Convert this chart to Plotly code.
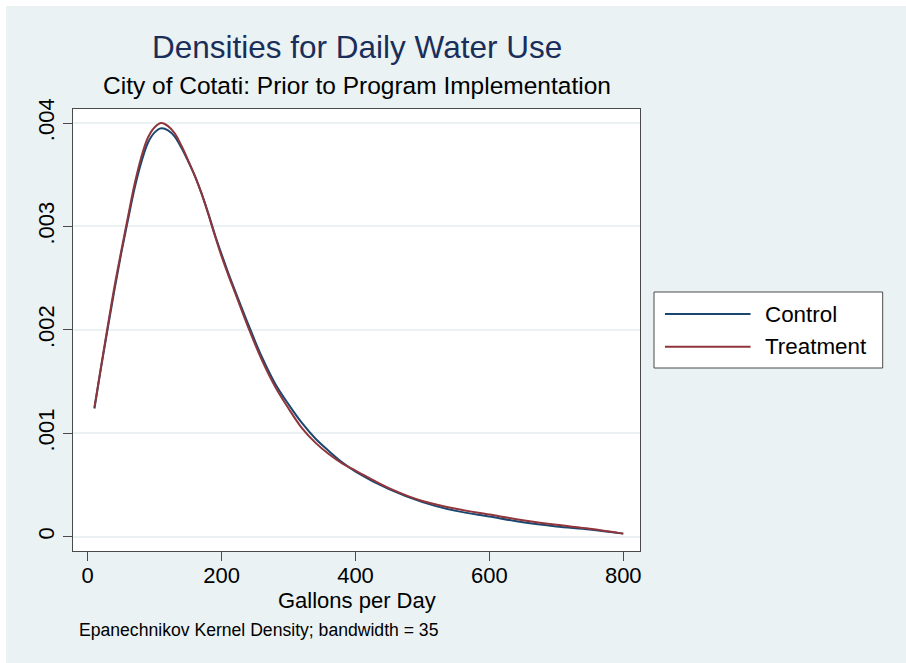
import plotly.graph_objects as go

# Kernel density estimates of daily water use (gallons per day)
gallons = [10, 20, 30, 40, 50, 60, 70, 80, 90, 100, 110, 120, 130, 140, 150,
           160, 170, 180, 190, 200, 210, 220, 240, 260, 280, 300, 320, 340,
           360, 380, 400, 450, 500, 550, 600, 650, 700, 750, 800]

control = [0.00124, 0.00164, 0.00202, 0.00239, 0.00274, 0.00306, 0.00337,
           0.00362, 0.00381, 0.00391, 0.00395, 0.00393, 0.00387, 0.00376,
           0.00363, 0.00349, 0.00332, 0.00313, 0.00292, 0.00273, 0.00255,
           0.00238, 0.00205, 0.00174, 0.00148, 0.00128, 0.00110, 0.00095,
           0.00083, 0.00072, 0.00063, 0.00046, 0.000335, 0.00025, 0.000195,
           0.00014, 0.0001, 0.00007, 0.00003]

treatment = [0.00125, 0.00165, 0.00204, 0.00242, 0.00276, 0.00309, 0.00341,
             0.00367, 0.00386, 0.00396, 0.00400, 0.00397, 0.00390, 0.00378,
             0.00364, 0.00349, 0.00332, 0.00312, 0.00291, 0.00271, 0.00253,
             0.00236, 0.00202, 0.00171, 0.00145, 0.00124, 0.00105, 0.00091,
             0.00080, 0.00071, 0.00064, 0.00047, 0.000345, 0.00027, 0.000215,
             0.00016, 0.000115, 0.000078, 0.00003]

y_ticks = [0, 0.001, 0.002, 0.003, 0.004]
y_tick_text = ["0", ".001", ".002", ".003", ".004"]
x_ticks = [0, 200, 400, 600, 800]

series_names = ["Control", "Treatment"]
series_colors = ["#1a476f", "#90353b"]

FONT = "Liberation Sans, Arial, Helvetica, sans-serif"
BG = "#eaf2f3"
FRAME = "#4a4a4a"

fig = go.Figure()
for name, vals, col in zip(series_names, [control, treatment], series_colors):
    fig.add_trace(go.Scatter(x=gallons, y=vals, mode="lines", name=name,
                             line=dict(color=col, width=2, shape="spline",
                                       smoothing=1.0),
                             showlegend=False))

shapes = [
    # graph region
    dict(type="rect", xref="paper", yref="paper", x0=-0.118, x1=1.6,
         y0=-0.35, y1=1.233, fillcolor=BG, line=dict(width=0), layer="below"),
    # plot region
    dict(type="rect", xref="paper", yref="paper", x0=0, x1=1, y0=0, y1=1,
         fillcolor="white", line=dict(width=0), layer="below"),
    # legend box
    dict(type="rect", xref="paper", yref="paper", x0=1.0247, x1=1.428,
         y0=0.414, y1=0.586, fillcolor="white",
         line=dict(color=FRAME, width=1)),
]

annotations = [
    dict(text="Densities for Daily Water Use", x=0.5, y=1.140, xref="paper",
         yref="paper", showarrow=False, xanchor="center", yanchor="middle",
         font=dict(family=FONT, size=31.5, color="#1a2e5a")),
    dict(text="City of Cotati: Prior to Program Implementation", x=0.5,
         y=1.054, xref="paper", yref="paper", showarrow=False,
         xanchor="center", yanchor="middle",
         font=dict(family=FONT, size=24.5, color="black")),
    dict(text="Gallons per Day", x=0.5, y=-0.111, xref="paper",
         yref="paper", showarrow=False, xanchor="center", yanchor="middle",
         font=dict(family=FONT, size=22, color="black")),
    dict(text="Epanechnikov Kernel Density; bandwidth = 35", x=0.007,
         y=-0.179, xref="paper", yref="paper", showarrow=False,
         xanchor="left", yanchor="middle",
         font=dict(family=FONT, size=17.6, color="black")),
]

# legend entries
legend_rows = [0.536, 0.462]
for name, col, yy in zip(series_names, series_colors, legend_rows):
    shapes.append(dict(type="line", xref="paper", yref="paper", x0=1.044,
                       x1=1.195, y0=yy, y1=yy, line=dict(color=col, width=2)))
    annotations.append(dict(text=name, x=1.217, y=yy, xref="paper",
                            yref="paper", showarrow=False, xanchor="left",
                            yanchor="middle",
                            font=dict(family=FONT, size=22.4, color="black")))

fig.update_layout(
    width=906, height=663,
    margin=dict(l=73, r=266, t=109, b=112),
    paper_bgcolor="white", plot_bgcolor="white",
    font=dict(family=FONT, size=22, color="black"),
    shapes=shapes, annotations=annotations,
    showlegend=False,
)

fig.update_xaxes(range=[-22, 825], tickvals=x_ticks, ticks="outside",
                 ticklen=9, tickcolor=FRAME, tickwidth=1, showgrid=False,
                 zeroline=False, showline=True, linecolor=FRAME, linewidth=1,
                 mirror=True, ticklabelstandoff=-4,
                 tickfont=dict(family=FONT, size=22))
fig.update_yaxes(range=[-0.000138, 0.004136], tickvals=y_ticks,
                 ticktext=y_tick_text, ticks="outside", ticklen=9,
                 tickcolor=FRAME, tickwidth=1, tickangle=-90, showgrid=True,
                 gridcolor=BG, gridwidth=2, zeroline=False, showline=True,
                 linecolor=FRAME, linewidth=1, mirror=True,
                 tickfont=dict(family=FONT, size=22))

fig.write_html("out.html")
